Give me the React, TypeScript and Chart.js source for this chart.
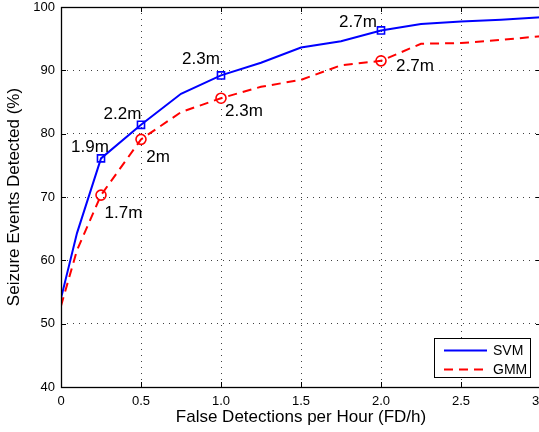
import React, { useEffect, useRef } from "react";
import { Chart, registerables } from "chart.js";

Chart.register(...registerables);

// False detections per hour (x) for each operating point
const fdh = [0, 0.1, 0.25, 0.5, 0.75, 1, 1.25, 1.5, 1.75, 2, 2.25, 2.5, 2.75, 3];
// Percentage of seizure events detected
const svm = [54.0, 64.3, 76.1, 81.4, 86.3, 89.2, 91.2, 93.6, 94.6, 96.3, 97.3, 97.7, 98.0, 98.4];
const gmm = [52.8, 61.6, 70.3, 79.1, 83.4, 85.6, 87.4, 88.5, 90.8, 91.5, 94.2, 94.3, 94.8, 95.4];
// Operating points marked on the curves, with their detection latency
const markedFdh = [0.25, 0.5, 1, 2];
const svmLatency = ["1.9m", "2.2m", "2.3m", "2.7m"];
const gmmLatency = ["1.7m", "2m", "2.3m", "2.7m"];
const xTicks = [0, 0.5, 1, 1.5, 2, 2.5, 3];
const yTicks = [40, 50, 60, 70, 80, 90, 100];

const FONT = "'Liberation Sans', Arial, Helvetica, sans-serif";
const CANVAS_W = 560;
const CANVAS_H = 432;

// label placement relative to the marker (dx, baseline dy)
const svmLabelOffset = [[-11, -6], [-18.5, -6], [-20, -11], [-23, -3]];
const gmmLabelOffset = [[22.5, 23], [17, 23], [23, 18], [34, 10]];

const overlayPlugin = {
  id: "matlabOverlay",
  afterDatasetsDraw(chart: any) {
    const { ctx, chartArea: a, scales } = chart;
    const xs = scales.x;
    const ys = scales.y;
    ctx.save();

    // inward tick marks on all four sides
    ctx.strokeStyle = "#000";
    ctx.lineWidth = 1;
    ctx.beginPath();
    xTicks.forEach((v) => {
      const px = Math.round(xs.getPixelForValue(v)) + 0.5;
      ctx.moveTo(px, a.bottom);
      ctx.lineTo(px, a.bottom - 5);
      ctx.moveTo(px, a.top);
      ctx.lineTo(px, a.top + 5);
    });
    yTicks.forEach((v) => {
      const py = Math.round(ys.getPixelForValue(v)) + 0.5;
      ctx.moveTo(a.left, py);
      ctx.lineTo(a.left + 5, py);
      ctx.moveTo(a.right, py);
      ctx.lineTo(a.right - 5, py);
    });
    ctx.stroke();

    // axes box
    ctx.lineWidth = 1.3;
    ctx.strokeRect(a.left + 0.5, a.top + 0.5, a.right - a.left, a.bottom - a.top);

    // latency labels next to the marked points
    ctx.fillStyle = "#000";
    ctx.font = `17px ${FONT}`;
    ctx.textAlign = "center";
    ctx.textBaseline = "alphabetic";
    const drawLabels = (dsIndex: number, texts: string[], offs: number[][]) => {
      const meta = chart.getDatasetMeta(dsIndex);
      markedFdh.forEach((fx, i) => {
        const idx = fdh.indexOf(fx);
        const pt = meta.data[idx];
        ctx.fillText(texts[i], pt.x + offs[i][0], pt.y + offs[i][1]);
      });
    };
    drawLabels(0, svmLatency, svmLabelOffset);
    drawLabels(1, gmmLatency, gmmLabelOffset);

    // legend box in the lower right corner
    const bw = 96;
    const bh = 39;
    const bx = a.right - 11 - bw;
    const by = a.bottom - 10 - bh;
    ctx.fillStyle = "#fff";
    ctx.fillRect(bx, by, bw, bh);
    ctx.strokeStyle = "#000";
    ctx.lineWidth = 1;
    ctx.strokeRect(bx + 0.5, by + 0.5, bw, bh);
    ctx.font = `14px ${FONT}`;
    ctx.textAlign = "left";
    ctx.textBaseline = "middle";
    chart.data.datasets.forEach((ds: any, i: number) => {
      const ly = by + 12.5 + i * 19;
      ctx.strokeStyle = ds.borderColor;
      ctx.lineWidth = ds.borderWidth;
      ctx.setLineDash(ds.borderDash || []);
      ctx.beginPath();
      ctx.moveTo(bx + 10, ly);
      ctx.lineTo(bx + 53, ly);
      ctx.stroke();
      ctx.setLineDash([]);
      ctx.fillStyle = "#000";
      ctx.fillText(ds.label, bx + 59, ly + 0.5);
    });

    ctx.restore();
  },
};

export default function App() {
  const canvasRef = useRef<HTMLCanvasElement | null>(null);

  useEffect(() => {
    const canvas = canvasRef.current;
    if (!canvas) return;
    const marked = (c: any) => markedFdh.includes(fdh[c.dataIndex]);
    const chart = new Chart(canvas, {
      type: "line",
      data: {
        datasets: [
          {
            label: "SVM",
            data: fdh.map((x, i) => ({ x, y: svm[i] })),
            borderColor: "#0000ff",
            borderWidth: 2,
            pointStyle: "rect",
            pointRadius: (c: any) => (marked(c) ? 5 : 0),
            pointBorderWidth: 1.6,
            pointBorderColor: "#0000ff",
            pointBackgroundColor: "rgba(0,0,0,0)",
            tension: 0,
          },
          {
            label: "GMM",
            data: fdh.map((x, i) => ({ x, y: gmm[i] })),
            borderColor: "#ff0000",
            borderWidth: 2,
            borderDash: [9, 6],
            pointStyle: "circle",
            pointRadius: (c: any) => (marked(c) ? 5 : 0),
            pointBorderWidth: 1.6,
            pointBorderColor: "#ff0000",
            pointBackgroundColor: "rgba(0,0,0,0)",
            tension: 0,
          },
        ],
      },
      options: {
        responsive: false,
        animation: false,
        events: [],
        layout: { padding: { left: 0, top: 7, right: CANVAS_W - 541, bottom: 0 } },
        plugins: { legend: { display: false }, tooltip: { enabled: false } },
        scales: {
          x: {
            type: "linear",
            min: 0,
            max: 3,
            afterBuildTicks: (s: any) => {
              s.ticks = xTicks.map((value) => ({ value }));
            },
            afterFit: (s: any) => {
              s.height = 45;
              s.paddingLeft = 0;
              s.paddingRight = 0;
            },
            grid: { color: "rgba(0,0,0,0.75)", lineWidth: 1, drawTicks: false },
            border: { display: false, dash: [1, 5] },
            ticks: {
              color: "#000",
              padding: 7,
              maxRotation: 0,
              autoSkip: false,
              font: { family: FONT, size: 13 },
            },
            title: {
              display: true,
              text: "False Detections per Hour (FD/h)",
              color: "#000",
              font: { family: FONT, size: 17 },
              padding: { top: 0, bottom: 4 },
            },
          },
          y: {
            type: "linear",
            min: 40,
            max: 100,
            afterBuildTicks: (s: any) => {
              s.ticks = yTicks.map((value) => ({ value }));
            },
            afterFit: (s: any) => {
              s.width = 61;
              s.paddingTop = 0;
              s.paddingBottom = 0;
            },
            grid: { color: "rgba(0,0,0,0.75)", lineWidth: 1, drawTicks: false },
            border: { display: false, dash: [1, 5] },
            ticks: {
              color: "#000",
              padding: 6,
              autoSkip: false,
              font: { family: FONT, size: 13 },
            },
            title: {
              display: true,
              text: "Seizure Events Detected (%)",
              color: "#000",
              font: { family: FONT, size: 17 },
              padding: { top: 4, bottom: 0 },
            },
          },
        },
      },
      plugins: [overlayPlugin],
    } as any);
    return () => chart.destroy();
  }, []);

  return (
    <div
      style={{
        position: "fixed",
        left: 0,
        top: 0,
        width: 539,
        height: CANVAS_H,
        overflow: "hidden",
        background: "#fff",
      }}
    >
      <canvas
        ref={canvasRef}
        width={CANVAS_W}
        height={CANVAS_H}
        style={{ width: CANVAS_W, height: CANVAS_H, display: "block" }}
      />
    </div>
  );
}
